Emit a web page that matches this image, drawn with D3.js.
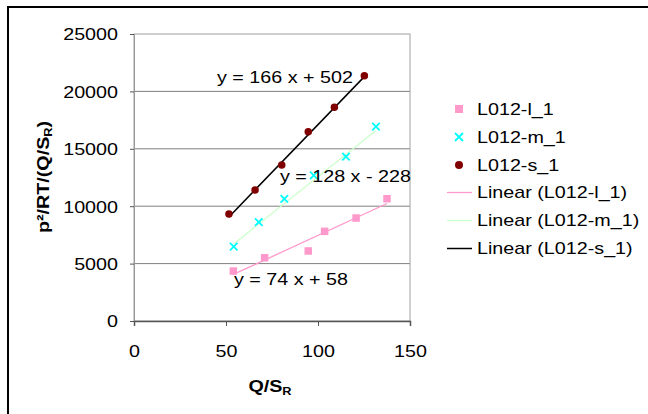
<!DOCTYPE html>
<html>
<head>
<meta charset="utf-8">
<script src="https://cdn.jsdelivr.net/npm/d3@7"></script>
<style>
  body { margin: 0; background: #fff; }
  text { font-family: "Liberation Sans", Arial, sans-serif; fill: #000; }
</style>
</head>
<body>
<div id="chart"></div>
<script>
// series values
const seriesNames = ['L012-l_1', 'L012-m_1', 'L012-s_1'];
const lX = [54.0, 71.0, 94.7, 103.6, 120.7, 137.5];
const lY = [4350, 5510, 6100, 7810, 8970, 10650];
const mX = [54.2, 67.8, 81.7, 97.7, 115.2, 131.5];
const mY = [6480, 8620, 10630, 12690, 14310, 16930];
const sX = [51.6, 65.8, 80.3, 94.7, 108.9, 125.2];
const sY = [9320, 11410, 13590, 16490, 18610, 21370];
// trendline coefficients as printed on the chart
const slopes = [74, 128, 166];
const intercepts = [58, -228, 502];
const eqLabels = ['y = 74 x + 58', 'y = 128 x - 228', 'y = 166 x + 502'];
const xTicks = [0, 50, 100, 150];
const yTicks = [0, 5000, 10000, 15000, 20000, 25000];

const W = 648, H = 414;
const margin = {top: 34, left: 134};
const plotW = 276, plotH = 287;
const sx = 1.16; // horizontal stretch of the original text
const colors = ['#ff99cc', '#00ffff', '#800000'];
const lineColors = ['#ff99cc', '#ccffcc', '#000000'];
// label anchors in data units
const eqPos = [[54.3, 3140], [79.3, 12110], [45.1, 20730]];

const seriesX = [lX, mX, sX];
const seriesY = [lY, mY, sY];
const series = seriesNames.map(function(name, i) {
  return {
    name: name,
    points: seriesX[i].map(function(x, j) { return {x: x, y: seriesY[i][j]}; })
  };
});

const svg = d3.select('#chart').append('svg')
    .attr('width', W)
    .attr('height', H);

// outer chart border (runs off the right and bottom edges)
svg.append('rect')
    .attr('x', 8).attr('y', 7)
    .attr('width', 700).attr('height', 500)
    .attr('fill', '#fff')
    .attr('stroke', '#000')
    .attr('stroke-width', 2);

let x = d3.scaleLinear().domain([0, 150]).range([0, plotW]);
let y = d3.scaleLinear().domain([0, 25000]).range([plotH, 0]);

let g = svg.append('g')
    .attr('transform', 'translate(' + margin.left + ',' + margin.top + ')');

// gridlines
g.selectAll('.grid').data(yTicks.slice(1, -1)).enter().append('line')
    .attr('x1', 0).attr('x2', plotW)
    .attr('y1', function(d) { return y(d); })
    .attr('y2', function(d) { return y(d); })
    .attr('stroke', '#7f7f7f')
    .attr('stroke-width', 1);

// plot frame
g.append('rect')
    .attr('width', plotW).attr('height', plotH)
    .attr('fill', 'none')
    .attr('stroke', '#a0a0a0')
    .attr('stroke-width', 1);

let axisLeft = g.append('g')
    .call(d3.axisLeft(y).tickValues(yTicks).tickSize(4).tickFormat(d3.format('d')));
let axisBottom = g.append('g')
    .attr('transform', 'translate(0,' + plotH + ')')
    .call(d3.axisBottom(x).tickValues(xTicks).tickSize(5).tickFormat(d3.format('d')));

[axisLeft, axisBottom].forEach(function(a) {
  a.select('.domain').attr('stroke', '#555').attr('stroke-width', 1.5);
  a.selectAll('.tick line').attr('stroke', '#555');
  a.selectAll('.tick text').attr('font-size', 17).attr('font-family', null);
});
axisLeft.select('.domain').attr('stroke', '#999').attr('stroke-width', 1);
axisLeft.selectAll('.tick text')
    .attr('x', null).attr('dy', '0.35em')
    .attr('transform', 'translate(-16,0) scale(' + sx + ',1)');
axisBottom.selectAll('.tick text')
    .attr('y', null).attr('dy', null)
    .attr('transform', 'translate(0,36) scale(' + sx + ',1)');

// trendlines
series.forEach(function(s, i) {
  let ext = d3.extent(s.points, function(d) { return d.x; });
  g.append('line')
      .attr('x1', x(ext[0])).attr('x2', x(ext[1]))
      .attr('y1', y(slopes[i] * ext[0] + intercepts[i]))
      .attr('y2', y(slopes[i] * ext[1] + intercepts[i]))
      .attr('stroke', lineColors[i])
      .attr('stroke-width', i === 2 ? 1.5 : 1.3);
});

// markers
function drawMarker(sel, i, size) {
  if (i === 0) {
    sel.append('rect')
        .attr('x', -size / 2).attr('y', -size / 2)
        .attr('width', size).attr('height', size)
        .attr('fill', colors[0]);
  } else if (i === 1) {
    let h = size / 2;
    sel.append('path')
        .attr('d', 'M' + (-h) + ',' + (-h) + 'L' + h + ',' + h +
                   'M' + (-h) + ',' + h + 'L' + h + ',' + (-h))
        .attr('stroke', colors[1])
        .attr('stroke-width', 1.8)
        .attr('fill', 'none');
  } else {
    sel.append('circle')
        .attr('r', size / 2)
        .attr('fill', colors[2]);
  }
}

series.forEach(function(s, i) {
  g.selectAll('.pt' + i).data(s.points).enter().append('g')
      .attr('class', 'pt' + i)
      .attr('transform', function(d) {
        return 'translate(' + x(d.x) + ',' + y(d.y) + ')';
      })
      .each(function() { drawMarker(d3.select(this), i, 7.5); });
});

// equation labels
eqLabels.forEach(function(lbl, i) {
  g.append('text')
      .attr('transform', 'translate(' + x(eqPos[i][0]) + ',' + y(eqPos[i][1]) +
            ') scale(' + sx + ',1)')
      .attr('font-size', 17)
      .text(lbl);
});

// axis titles
let yTitle = svg.append('text')
    .attr('transform', 'translate(49,177) rotate(-90) scale(' + sx + ',1)')
    .attr('text-anchor', 'middle')
    .attr('font-size', 17)
    .attr('font-weight', 'bold');
yTitle.append('tspan').text('p\u00b2/RT/(Q/S');
yTitle.append('tspan').attr('font-size', 11).attr('dy', 3).text('R');
yTitle.append('tspan').attr('dy', -3).text(')');

let xTitle = svg.append('text')
    .attr('transform', 'translate(270,392) scale(' + sx + ',1)')
    .attr('text-anchor', 'middle')
    .attr('font-size', 17)
    .attr('font-weight', 'bold');
xTitle.append('tspan').text('Q/S');
xTitle.append('tspan').attr('font-size', 11).attr('dy', 3).text('R');

// legend
let legend = svg.append('g').attr('transform', 'translate(447,109)');
const rowH = 28;
seriesNames.forEach(function(name, i) {
  let row = legend.append('g').attr('transform', 'translate(0,' + (i * rowH) + ')');
  drawMarker(row.append('g').attr('transform', 'translate(12,0)'), i, 8);
  row.append('text')
      .attr('transform', 'translate(30,0) scale(' + sx + ',1)')
      .attr('dy', '0.35em')
      .attr('font-size', 17)
      .text(name);
});
seriesNames.forEach(function(name, i) {
  let row = legend.append('g')
      .attr('transform', 'translate(0,' + ((i + 3) * rowH - 0.5) + ')');
  row.append('line')
      .attr('x1', 0).attr('x2', 25)
      .attr('stroke', lineColors[i])
      .attr('stroke-width', i === 2 ? 1.5 : 1.3);
  row.append('text')
      .attr('transform', 'translate(30,0) scale(' + sx + ',1)')
      .attr('dy', '0.35em')
      .attr('font-size', 17)
      .text('Linear (' + name + ')');
});
</script>
</body>
</html>
